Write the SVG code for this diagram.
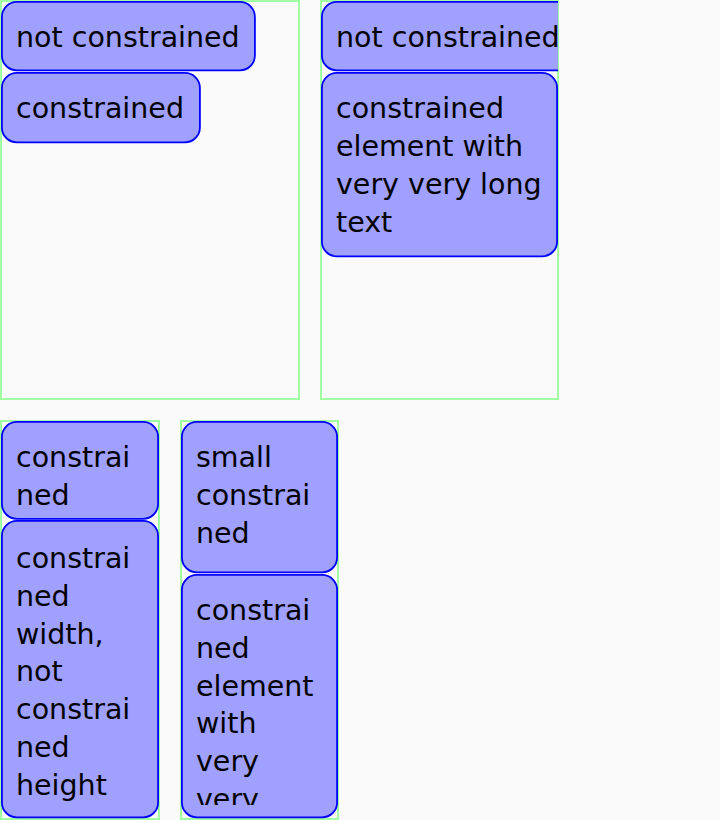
<svg xmlns="http://www.w3.org/2000/svg" width="720" height="820" viewBox="0 0 720 820">
<style>
.bg{fill:#fafafa}
.cont{fill:none;stroke:#a0ffa0;stroke-width:2}
.box{fill:#a0a0ff;stroke:#0000ff;stroke-width:1.8}
.t{font-family:"DejaVu Sans","Noto Sans",sans-serif;font-size:28.5px;fill:#000}
</style>
<defs>
<clipPath id="c2"><rect x="321" y="1" width="237" height="398"/></clipPath>
<clipPath id="c4t"><rect x="181" y="575" width="157" height="230"/></clipPath>
</defs>
<rect class="bg" x="0" y="0" width="720" height="820"/>

<g id="container1">
<rect class="cont" x="1" y="1" width="298" height="398"/>
</g>
<g id="c1-not-constrained">
<rect class="box" x="1.9" y="1.9" width="253" height="68.5" rx="15"/>
<text class="t" x="16" y="47">not constrained</text>
</g>
<g id="c1-constrained">
<rect class="box" x="1.9" y="72.9" width="198" height="69.5" rx="15"/>
<text class="t" x="16" y="118">constrained</text>
</g>

<g id="container2">
<rect class="cont" x="321" y="1" width="237" height="398"/>
</g>
<g id="c2-not-constrained" clip-path="url(#c2)">
<rect class="box" x="321.9" y="1.9" width="253" height="68.5" rx="15"/>
<text class="t" x="336" y="47">not constrained</text>
</g>
<g id="c2-constrained">
<rect class="box" x="321.9" y="72.9" width="235.2" height="183.5" rx="15"/>
<text class="t" x="336" y="118"><tspan x="336">constrained</tspan><tspan x="336" dy="38">element with</tspan><tspan x="336" dy="38">very very long</tspan><tspan x="336" dy="38">text</tspan></text>
</g>

<g id="container3">
<rect class="cont" x="1" y="421" width="158" height="398"/>
</g>
<g id="c3-constrained">
<rect class="box" x="1.9" y="421.9" width="156.2" height="97" rx="15"/>
<text class="t" x="16" y="467"><tspan x="16">constrai</tspan><tspan x="16" dy="37.8">ned</tspan></text>
</g>
<g id="c3-width-constrained">
<rect class="box" x="1.9" y="520.9" width="156.2" height="296.5" rx="15"/>
<text class="t" x="16" y="568"><tspan x="16">constrai</tspan><tspan x="16" dy="37.8">ned</tspan><tspan x="16" dy="37.8">width,</tspan><tspan x="16" dy="37.8">not</tspan><tspan x="16" dy="37.8">constrai</tspan><tspan x="16" dy="37.8">ned</tspan><tspan x="16" dy="37.8">height</tspan></text>
</g>

<g id="container4">
<rect class="cont" x="181" y="421" width="157" height="398"/>
</g>
<g id="c4-small-constrained">
<rect class="box" x="181.9" y="421.9" width="155.2" height="150.5" rx="15"/>
<text class="t" x="196" y="467"><tspan x="196">small</tspan><tspan x="196" dy="38">constrai</tspan><tspan x="196" dy="38">ned</tspan></text>
</g>
<g id="c4-constrained-long">
<rect class="box" x="181.9" y="574.9" width="155.2" height="242.5" rx="15"/>
<text class="t" x="196" y="620" clip-path="url(#c4t)"><tspan x="196">constrai</tspan><tspan x="196" dy="37.8">ned</tspan><tspan x="196" dy="37.8">element</tspan><tspan x="196" dy="37.8">with</tspan><tspan x="196" dy="37.8">very</tspan><tspan x="196" dy="37.8">very</tspan><tspan x="196" dy="37.8">long</tspan><tspan x="196" dy="37.8">text</tspan></text>
</g>
</svg>
